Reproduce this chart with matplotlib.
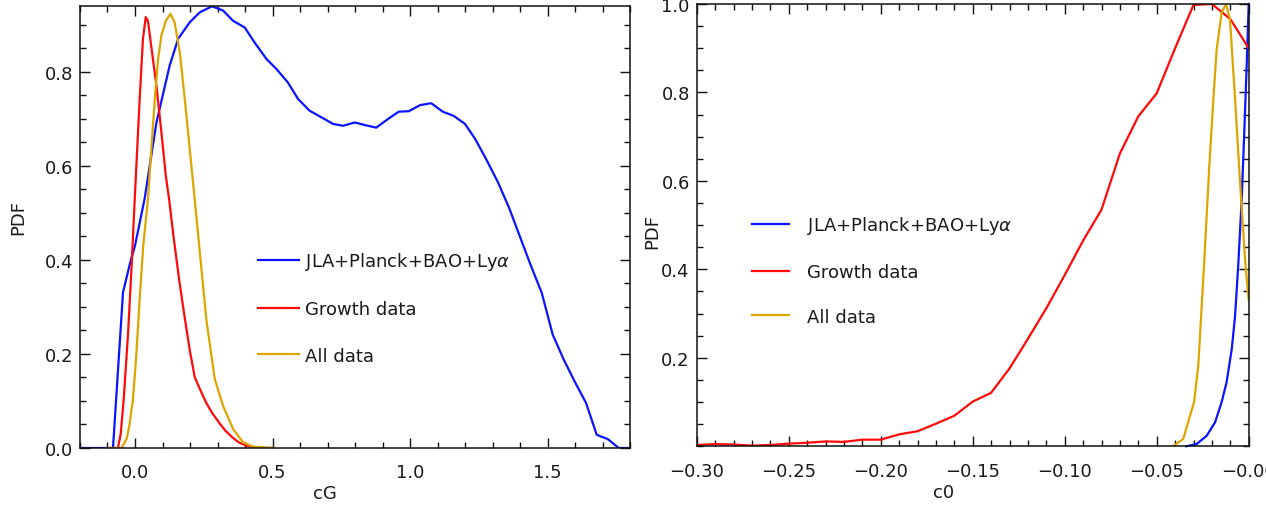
import matplotlib
matplotlib.use('Agg')
import matplotlib.pyplot as plt
from matplotlib.ticker import MultipleLocator, FixedLocator, FuncFormatter

# ------------------------------------
#   Data
# ------------------------------------

labels = ['JLA+Planck+BAO+Ly$\\alpha$', 'Growth data', 'All data']
colors = ['#0a14ff', '#ff0a0a', '#dca500']

# left panel : cG
cg_blue_x = [-0.2, -0.08, -0.0436, -0.015, 0.0, 0.035, 0.078, 0.126, 0.157, 0.199, 0.235,
             0.28, 0.32, 0.357, 0.399, 0.435, 0.478, 0.514, 0.556, 0.593, 0.635, 0.678,
             0.72, 0.756, 0.799, 0.84, 0.877, 0.919, 0.959, 0.996, 1.037, 1.077, 1.119,
             1.159, 1.2, 1.237, 1.277, 1.319, 1.36, 1.4, 1.44, 1.479, 1.519, 1.559, 1.6,
             1.64, 1.679, 1.719, 1.759, 1.8]
cg_blue_y = [0.0, 0.0, 0.331, 0.40, 0.43, 0.53, 0.692, 0.813, 0.870, 0.905, 0.926,
             0.939, 0.930, 0.908, 0.894, 0.862, 0.827, 0.806, 0.777, 0.742, 0.717, 0.703,
             0.689, 0.685, 0.692, 0.686, 0.681, 0.699, 0.715, 0.716, 0.729, 0.733, 0.715,
             0.706, 0.689, 0.657, 0.614, 0.566, 0.511, 0.449, 0.387, 0.33, 0.241, 0.188, 0.14,
             0.096, 0.028, 0.019, 0.0, 0.0]

cg_red_x = [-0.1, -0.062, -0.052, -0.041, -0.025, -0.012, -0.001, 0.017, 0.029, 0.039, 0.047,
            0.06, 0.078, 0.096, 0.112, 0.124, 0.14, 0.16, 0.18, 0.2, 0.2175, 0.24, 0.26,
            0.28, 0.308, 0.33, 0.357, 0.38, 0.405, 0.44, 0.5]
cg_red_y = [0.0, 0.0, 0.03, 0.104, 0.246, 0.39, 0.529, 0.742, 0.87, 0.916, 0.908,
            0.85, 0.770, 0.671, 0.579, 0.529, 0.45, 0.36, 0.28, 0.205, 0.15, 0.12, 0.095,
            0.075, 0.052, 0.036, 0.021, 0.011, 0.005, 0.001, 0.0]

cg_all_x = [-0.1, -0.049, -0.03, -0.02, -0.0073, 0.005, 0.017, 0.03, 0.047, 0.06, 0.072,
            0.084, 0.096, 0.112, 0.129, 0.144, 0.163, 0.181, 0.199, 0.217, 0.24, 0.26,
            0.29, 0.32, 0.357, 0.393, 0.429, 0.5]
cg_all_y = [0.0, 0.0, 0.02, 0.05, 0.104, 0.2, 0.317, 0.43, 0.529, 0.64, 0.742,
            0.827, 0.877, 0.908, 0.923, 0.905, 0.841, 0.742, 0.636, 0.529, 0.39, 0.27,
            0.147, 0.09, 0.04, 0.012, 0.003, 0.0]

# right panel : c0
c0_blue_x = [-0.034, -0.0283, -0.0228, -0.0183, -0.0147, -0.012, -0.0092, -0.0074,
             -0.0057, -0.0038, -0.0024, -0.0011, 0.0]
c0_blue_y = [0.0, 0.005, 0.024, 0.054, 0.1, 0.145, 0.22, 0.295,
             0.408, 0.559, 0.71, 0.86, 1.0]

c0_red_x = [-0.30, -0.29, -0.28, -0.27, -0.26, -0.25, -0.24, -0.23, -0.22, -0.21, -0.20,
            -0.19, -0.18, -0.17, -0.16, -0.15, -0.14, -0.13, -0.12, -0.11, -0.10, -0.09,
            -0.08, -0.07, -0.06, -0.05, -0.04, -0.03, -0.02, -0.01, 0.0]
c0_red_y = [0.003, 0.005, 0.004, 0.0015, 0.003, 0.006, 0.008, 0.011, 0.010, 0.015, 0.015,
            0.027, 0.034, 0.051, 0.069, 0.101, 0.121, 0.176, 0.243, 0.312, 0.387, 0.465,
            0.535, 0.662, 0.746, 0.798, 0.9, 0.998, 1.0, 0.966, 0.9]

c0_all_x = [-0.0413, -0.0356, -0.0297, -0.0274, -0.0243, -0.0214, -0.0192, -0.0174,
            -0.0147, -0.0123, -0.0102, -0.0074, -0.0047, -0.002, 0.0]
c0_all_y = [0.0, 0.0165, 0.1, 0.182, 0.408, 0.634, 0.785, 0.898,
            0.981, 1.0, 0.966, 0.785, 0.597, 0.424, 0.33]

plt.rcParams['font.family'] = 'DejaVu Sans'
plt.rcParams['font.size'] = 13
plt.rcParams['text.color'] = '#1a1a1a'
plt.rcParams['axes.labelcolor'] = '#1a1a1a'


def style_axes(ax):
    """ IDL-like frame: ticks inside on all four sides """
    for s in ax.spines.values():
        s.set_linewidth(1.1)
        s.set_color('#111111')
    ax.tick_params(which='both', direction='in', top=True, right=True,
                   colors='#111111', labelcolor='#1a1a1a', labelsize=13)
    ax.tick_params(which='major', length=7.5, width=1.0)
    ax.tick_params(which='minor', length=4.2, width=1.0)
    ax.tick_params(axis='x', which='both', pad=11)
    ax.tick_params(axis='y', which='both', pad=5)


fig = plt.figure(figsize=(12.66, 5.06), dpi=100)
W, H = 1266.0, 506.0

'''Left panel: cG'''
ax1 = fig.add_axes([80 / W, (H - 449) / H, 550 / W, 441.7 / H])
ax1.plot(cg_blue_x, cg_blue_y, color=colors[0], lw=1.6, label=labels[0])
ax1.plot(cg_red_x, cg_red_y, color=colors[1], lw=1.6, label=labels[1])
ax1.plot(cg_all_x, cg_all_y, color=colors[2], lw=1.6, label=labels[2])
ax1.set_xlim(-0.2, 1.8)
ax1.set_ylim(0, 0.939)
ax1.xaxis.set_major_locator(FixedLocator([0.0, 0.5, 1.0, 1.5]))
ax1.xaxis.set_minor_locator(MultipleLocator(0.1))
ax1.yaxis.set_major_locator(FixedLocator([0.0, 0.2, 0.4, 0.6, 0.8]))
ax1.yaxis.set_minor_locator(MultipleLocator(0.05))
ax1.xaxis.set_major_formatter(FuncFormatter(lambda v, p: '%.1f' % v))
ax1.yaxis.set_major_formatter(FuncFormatter(lambda v, p: '%.1f' % v))
style_axes(ax1)
ax1.set_xlabel('cG', va='center')
ax1.xaxis.set_label_coords(0.445, -0.102)
ax1.set_ylabel('PDF', va='center', ha='center')
ax1.yaxis.set_label_coords(-0.113, 0.525)
ax1.legend(loc='upper left', bbox_to_anchor=((258 - 80) / 550, (449 - 251) / 441.7),
           frameon=False, borderpad=0, borderaxespad=0, handlelength=2.28,
           handletextpad=0.33, labelspacing=1.57, fontsize=13)

'''Right panel: c0'''
ax2 = fig.add_axes([696.7 / W, (H - 447.3) / H, 552 / W, 442.3 / H])
ax2.plot(c0_blue_x, c0_blue_y, color=colors[0], lw=1.6, label=labels[0], clip_on=False)
ax2.plot(c0_red_x, c0_red_y, color=colors[1], lw=1.6, label=labels[1])
ax2.plot(c0_all_x, c0_all_y, color=colors[2], lw=1.6, label=labels[2])
ax2.set_xlim(-0.30, 0.0)
ax2.set_ylim(0, 1.0)
ax2.xaxis.set_major_locator(MultipleLocator(0.05))
ax2.xaxis.set_minor_locator(MultipleLocator(0.01))
ax2.yaxis.set_major_locator(FixedLocator([0.2, 0.4, 0.6, 0.8, 1.0]))
ax2.yaxis.set_minor_locator(MultipleLocator(0.05))


def c0_fmt(v, p):
    if abs(v) < 1e-9:
        return '\u22120.00'
    return ('%.2f' % v).replace('-', '\u2212')


ax2.xaxis.set_major_formatter(FuncFormatter(c0_fmt))
ax2.yaxis.set_major_formatter(FuncFormatter(lambda v, p: '%.1f' % v))
style_axes(ax2)
ax2.set_xlabel('c0', va='center')
ax2.xaxis.set_label_coords(0.448, -0.104)
ax2.set_ylabel('PDF', va='center', ha='center')
ax2.yaxis.set_label_coords(-0.081, 0.487)
ax2.legend(loc='upper left', bbox_to_anchor=((751.7 - 696.7) / 552, (447.3 - 215.5) / 442.3),
           frameon=False, borderpad=0, borderaxespad=0, handlelength=2.06,
           handletextpad=0.98, labelspacing=1.47, fontsize=13)

fig.savefig('out.png', dpi=100)
